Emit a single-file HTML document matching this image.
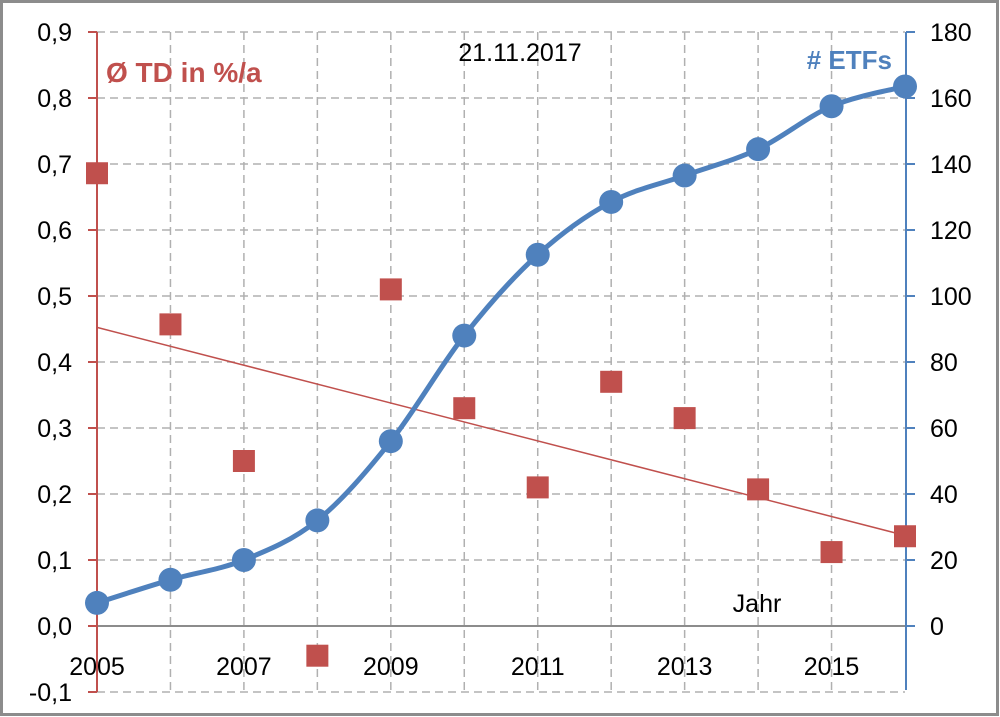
<!DOCTYPE html>
<html><head><meta charset="utf-8"><style>
body{margin:0;background:#fff;}
svg{display:block;font-family:"Liberation Sans",Calibri,sans-serif;}
</style></head><body>
<svg id="c" width="1000" height="717" viewBox="0 0 1000 717">
<rect x="1.5" y="1.5" width="996" height="713" fill="#fff" stroke="#8c8c8c" stroke-width="3"/>
<g id="grid"></g><g id="axes"></g><g id="marks"></g>
<text x="520" y="61" font-size="25" text-anchor="middle" fill="#000">21.11.2017</text>
<text x="106" y="82" font-size="28" font-weight="bold" fill="#c0504d">Ø TD in %/a</text>
<text x="892" y="69" font-size="26" font-weight="bold" fill="#4f81bd" text-anchor="end"># ETFs</text>
<text x="757" y="612" font-size="25" text-anchor="middle">Jahr</text>
</svg>
<script>
const years=[2005,2006,2007,2008,2009,2010,2011,2012,2013,2014,2015,2016];
const td=[0.686,0.457,0.25,-0.045,0.51,0.33,0.21,0.37,0.315,0.207,0.112,0.136];
const etfs=[7,14,20,32,56,88,112.5,128.5,136.5,144.5,157.5,163.5];
const leftTicks=[-0.1,0,0.1,0.2,0.3,0.4,0.5,0.6,0.7,0.8,0.9];
const rightTicks=[0,20,40,60,80,100,120,140,160,180];
const xLabels=[2005,2007,2009,2011,2013,2015];
const NS="http://www.w3.org/2000/svg";
const X0=97,X1=905,Y0=626,PER=660;
const xs=v=>X0+(v-2005)*(X1-X0)/11;
const yl=v=>Y0-v*PER;
const yr=v=>Y0-v/180*0.9*PER;
function mk(p,t,a){const e=document.createElementNS(NS,t);for(const k in a)e.setAttribute(k,a[k]);document.getElementById(p).appendChild(e);return e;}
leftTicks.forEach(v=>{if(v===0)return;const e=mk('grid','line',{x1:X0,x2:X1,y1:yl(v),y2:yl(v),stroke:'#b0b0b0','stroke-width':1.5,'stroke-dasharray':'8,5'});

});
years.forEach(v=>{if(v===2005||v===2016)return;const e=mk('grid','line',{x1:xs(v),x2:xs(v),y1:yl(0.9),y2:yl(-0.1),stroke:'#b0b0b0','stroke-width':1.5,'stroke-dasharray':'8,5'});

});
let a=mk('axes','line',{x1:X0,x2:X1,y1:Y0,y2:Y0,stroke:'#8c8c8c','stroke-width':2});


a=mk('axes','line',{x1:X0,x2:X0,y1:yl(0.9),y2:yl(-0.1),stroke:'#c0504d','stroke-width':2});


a=mk('axes','line',{x1:906,x2:906,y1:yr(180),y2:690,stroke:'#4f81bd','stroke-width':2});


leftTicks.forEach(v=>{mk('axes','line',{x1:88,x2:X0,y1:yl(v),y2:yl(v),stroke:'#c0504d','stroke-width':2});
const t=mk('axes','text',{x:72,y:yl(v)+9,'font-size':25,'text-anchor':'end'});t.textContent=v.toFixed(1).replace('.',',');

});
rightTicks.forEach(v=>{mk('axes','line',{x1:906,x2:915,y1:yr(v),y2:yr(v),stroke:'#4f81bd','stroke-width':2});
const t=mk('axes','text',{x:930,y:yr(v)+9,'font-size':25});t.textContent=v;

});
xLabels.forEach(v=>{const t=mk('axes','text',{x:xs(v),y:675,'font-size':25,'text-anchor':'middle'});t.textContent=v;

});
const n=years.length,mx=years.reduce((s,v)=>s+v,0)/n,my=td.reduce((s,v)=>s+v,0)/n;
let sxy=0,sxx=0;years.forEach((x,i)=>{sxy+=(x-mx)*(td[i]-my);sxx+=(x-mx)**2;});
const b=sxy/sxx,f=x=>my+b*(x-mx);
a=mk('marks','line',{x1:xs(2005),y1:yl(f(2005)),x2:xs(2016),y2:yl(f(2016)),stroke:'#c0504d','stroke-width':1.5});


td.forEach((v,i)=>{const r=mk('marks','rect',{x:xs(years[i])-11,y:yl(v)-11,width:22,height:22,fill:'#c0504d'});

});
const P=years.map((y,i)=>[xs(y),yr(etfs[i])]);
let d='M'+P[0][0]+','+P[0][1];
for(let i=0;i<P.length-1;i++){const p0=P[Math.max(0,i-1)],p1=P[i],p2=P[i+1],p3=P[Math.min(P.length-1,i+2)];
d+=` C${p1[0]+(p2[0]-p0[0])/6},${p1[1]+(p2[1]-p0[1])/6} ${p2[0]-(p3[0]-p1[0])/6},${p2[1]-(p3[1]-p1[1])/6} ${p2[0]},${p2[1]}`;}
a=mk('marks','path',{d:d,fill:'none',stroke:'#4f81bd','stroke-width':5});


P.forEach(p=>{const c=mk('marks','circle',{cx:p[0],cy:p[1],r:12,fill:'#4f81bd'});

});
</script>
</body></html>
